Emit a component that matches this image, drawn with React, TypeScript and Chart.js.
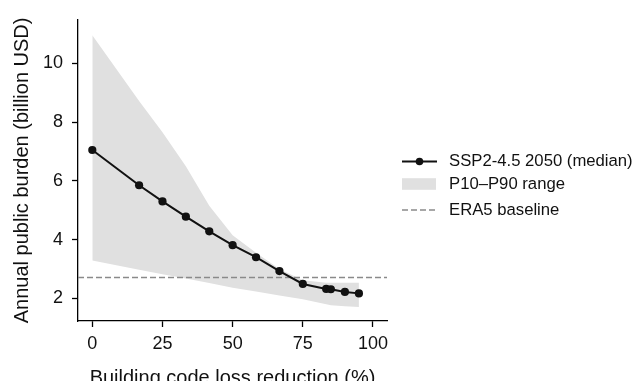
import React, { useEffect, useRef } from "react";
import { Chart, registerables } from "chart.js";

Chart.register(...registerables);

const xValues = [0, 16.67, 25, 33.33, 41.67, 50, 58.33, 66.67, 75, 83.33, 85, 90, 95];
const medianValues = [7.05, 5.85, 5.3, 4.78, 4.28, 3.81, 3.4, 2.93, 2.49, 2.32, 2.31, 2.22, 2.17];
const p90Values = [10.95, 8.72, 7.65, 6.5, 5.15, 4.15, 3.55, 3.0, 2.62, 2.53, 2.53, 2.53, 2.53];
const p10Values = [3.29, 2.97, 2.82, 2.68, 2.52, 2.36, 2.23, 2.1, 1.97, 1.8, 1.77, 1.73, 1.71];
const baselineValue = 2.71;
const xTicks = [0, 25, 50, 75, 100];
const yTicks = [2, 4, 6, 8, 10];
const xRange = [-5.1, 105];
const yRange = [1.23, 11.48];
const seriesLabels = ["SSP2-4.5 2050 (median)", "P10\u2013P90 range", "ERA5 baseline"];
const xTitle = "Building code loss reduction (%)";
const yTitle = "Annual public burden (billion USD)";

const FONT = "'Liberation Sans', Arial, Helvetica, sans-serif";
const DARK = "#111111";
const BAND = "#e0e0e0";
const DASH = "#8a8a8a";

const legendPlugin = {
  id: "customLegend",
  afterDraw(chart: any) {
    const ctx = chart.ctx;
    ctx.save();
    const x0 = 402;
    const x1 = 437;
    const tx = 449;
    const rows = [161.5, 184, 210];
    // median
    ctx.strokeStyle = DARK;
    ctx.lineWidth = 2;
    ctx.setLineDash([]);
    ctx.beginPath();
    ctx.moveTo(x0, rows[0]);
    ctx.lineTo(x1, rows[0]);
    ctx.stroke();
    ctx.fillStyle = DARK;
    ctx.beginPath();
    ctx.arc((x0 + x1) / 2, rows[0], 3.8, 0, Math.PI * 2);
    ctx.fill();
    // band
    ctx.fillStyle = BAND;
    ctx.fillRect(x0, rows[1] - 5.8, x1 - x0 - 1, 11.6);
    // dashed
    ctx.strokeStyle = DASH;
    ctx.lineWidth = 1.4;
    ctx.setLineDash([6, 3]);
    ctx.beginPath();
    ctx.moveTo(x0, rows[2]);
    ctx.lineTo(x1, rows[2]);
    ctx.stroke();
    ctx.setLineDash([]);
    ctx.fillStyle = "#111";
    ctx.font = `16.7px ${FONT}`;
    ctx.textBaseline = "middle";
    ctx.textAlign = "left";
    seriesLabels.forEach((t, i) => ctx.fillText(t, tx, rows[i]));
    ctx.restore();
  },
};

export default function App() {
  const ref = useRef<HTMLCanvasElement | null>(null);
  useEffect(() => {
    if (!ref.current) return;
    const pts = (ys: number[]) => xValues.map((x, i) => ({ x, y: ys[i] }));
    const chart = new Chart(ref.current, {
      type: "scatter",
      data: {
        datasets: [
          {
            label: seriesLabels[0],
            data: pts(medianValues),
            showLine: true,
            borderColor: DARK,
            backgroundColor: DARK,
            borderWidth: 2,
            pointRadius: 4.1,
            pointBorderWidth: 0,
            order: 0,
          },
          {
            label: seriesLabels[2],
            data: [
              { x: xRange[0], y: baselineValue },
              { x: xRange[1], y: baselineValue },
            ],
            showLine: true,
            borderColor: DASH,
            borderWidth: 1.4,
            borderDash: [6, 3],
            pointRadius: 0,
            order: 1,
          },
          {
            label: seriesLabels[1],
            data: pts(p90Values),
            showLine: true,
            borderWidth: 0,
            borderColor: "rgba(0,0,0,0)",
            backgroundColor: BAND,
            pointRadius: 0,
            fill: "+1",
            order: 2,
          },
          {
            label: "p10",
            data: pts(p10Values),
            showLine: true,
            borderWidth: 0,
            borderColor: "rgba(0,0,0,0)",
            pointRadius: 0,
            fill: false,
            order: 3,
          },
        ],
      },
      options: {
        animation: false,
        responsive: false,
        events: [],
        layout: { padding: { left: 0, top: 18, right: 248, bottom: 0 } },
        plugins: {
          legend: { display: false },
          tooltip: { enabled: false },
          filler: { propagate: false },
        },
        scales: {
          x: {
            type: "linear",
            min: xRange[0],
            max: xRange[1],
            afterBuildTicks: (axis: any) => {
              axis.ticks = xTicks.map((v) => ({ value: v }));
            },
            afterFit: (scale: any) => {
              scale.height = 392 - 321;
            },
            grid: {
              drawOnChartArea: false,
              drawTicks: true,
              tickLength: 6,
              tickColor: "#000",
              tickWidth: 1.3,
            },
            border: { display: true, color: "#000", width: 1.3 },
            ticks: {
              color: "#111",
              font: { family: FONT, size: 18 },
              padding: 6,
              maxRotation: 0,
              callback: (v: any) => String(v),
            },
            title: {
              display: true,
              text: xTitle,
              color: "#111",
              font: { family: FONT, size: 20 },
              padding: { top: 0, bottom: 1.5 },
            },
          },
          y: {
            type: "linear",
            min: yRange[0],
            max: yRange[1],
            afterBuildTicks: (axis: any) => {
              axis.ticks = yTicks.map((v) => ({ value: v }));
            },
            afterFit: (scale: any) => {
              scale.width = 78;
            },
            grid: {
              drawOnChartArea: false,
              drawTicks: true,
              tickLength: 6,
              tickColor: "#000",
              tickWidth: 1.3,
            },
            border: { display: true, color: "#000", width: 1.3 },
            ticks: {
              color: "#111",
              font: { family: FONT, size: 18 },
              padding: 9,
              callback: (v: any) => String(v),
            },
            title: {
              display: true,
              text: yTitle,
              color: "#111",
              font: { family: FONT, size: 20 },
              padding: { top: 10, bottom: 0 },
            },
          },
        },
      },
      plugins: [legendPlugin],
    });
    return () => chart.destroy();
  }, []);
  return (
    <div
      style={{
        position: "fixed",
        left: 0,
        top: 0,
        width: 635,
        height: 381,
        overflow: "hidden",
        background: "#fff",
      }}
    >
      <canvas ref={ref} width={635} height={392} style={{ display: "block" }} />
    </div>
  );
}
